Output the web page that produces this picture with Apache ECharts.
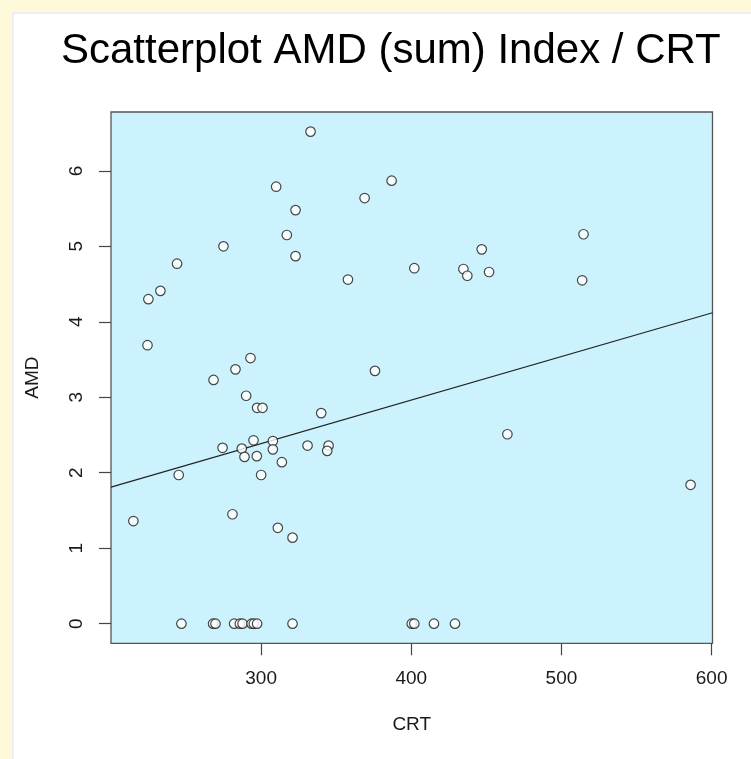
<!DOCTYPE html>
<html>
<head>
<meta charset="utf-8">
<script src="https://cdn.jsdelivr.net/npm/echarts@6/dist/echarts.min.js"></script>
<style>
  html, body { margin: 0; padding: 0; width: 751px; height: 759px; overflow: hidden; background: #fff9dc; }
  #panel { position: absolute; left: 12px; top: 12px; right: 0; bottom: 0; background: #ffffff; border-left: 2px solid #eeeef3; border-top: 2px solid #eeeef3; }
  #chart { position: absolute; left: 0; top: 0; width: 751px; height: 759px; }
</style>
</head>
<body>
<div id="panel"></div>
<div id="chart"></div>
<script>
// Data
const crt = [214.9, 224.3, 224.9, 232.9, 244.0, 245.1, 246.9, 268.3, 268.0, 269.6,
             274.9, 274.3, 280.9, 282.9, 282.0, 285.8, 287.6, 287.1, 288.9, 290.0,
             292.9, 294.9, 297.1, 297.3, 300.9, 300.0, 293.6, 295.1, 297.3, 307.8,
             307.8, 310.0, 311.1, 313.8, 317.1, 320.9, 320.9, 322.9, 322.9, 330.9,
             332.9, 340.0, 344.9, 344.0, 357.8, 368.9, 375.8, 386.9, 400.3, 402.0,
             402.0, 415.1, 429.1, 434.7, 437.3, 446.9, 451.8, 464.0, 513.8, 514.7,
             586.0];
const amd = [1.36, 3.69, 4.30, 4.41, 4.77, 1.97, 0, 3.23, 0, 0,
             5.00, 2.33, 1.45, 3.37, 0, 0, 0, 2.32, 2.21, 3.02,
             3.52, 2.43, 2.22, 2.86, 2.86, 1.97, 0, 0, 0, 2.42,
             2.31, 5.79, 1.27, 2.14, 5.15, 1.14, 0, 5.48, 4.87, 2.36,
             6.52, 2.79, 2.36, 2.29, 4.56, 5.64, 3.35, 5.87, 0, 0,
             4.71, 0, 0, 4.70, 4.61, 4.96, 4.66, 2.51, 4.55, 5.16,
             1.84];
// Fitted line endpoints as read at the plot edges
const fitX = [200, 600.6];
const fitY = [1.81, 4.12];
const xTicks = [300, 400, 500, 600];
const yTicks = [0, 1, 2, 3, 4, 5, 6];

const points = crt.map((x, i) => [x, amd[i]]);
const fitLine = fitX.map((x, i) => [x, fitY[i]]);

const chart = echarts.init(document.getElementById('chart'), null, { renderer: 'canvas' });
const font = 'Liberation Sans, Arial, Helvetica, sans-serif';
chart.setOption({
  backgroundColor: 'transparent',
  animation: false,
  title: {
    text: 'Scatterplot AMD (sum) Index / CRT',
    left: 56, top: 25,
    textStyle: { fontFamily: font, fontSize: 42, fontWeight: 'normal', color: '#000' }
  },
  grid: {
    left: 111, top: 112, width: 601.5, height: 531.3,
    show: true, backgroundColor: '#ccf3fd', borderColor: '#555', borderWidth: 1.3
  },
  xAxis: {
    type: 'value', min: 200, max: 600.6, interval: 100,
    name: 'CRT', nameLocation: 'middle', nameGap: 72,
    nameTextStyle: { fontFamily: font, fontSize: 19, color: '#1a1a1a' },
    axisLine: { show: false, onZero: false },
    splitLine: { show: false },
    axisTick: { show: true, inside: false, length: 12, customValues: xTicks, lineStyle: { color: '#444', width: 1.2 } },
    axisLabel: { customValues: xTicks, margin: 26, fontFamily: font, fontSize: 19, color: '#1a1a1a' }
  },
  yAxis: {
    type: 'value', min: -0.26, max: 6.78,
    name: 'AMD', nameLocation: 'middle', nameGap: 69,
    nameTextStyle: { fontFamily: font, fontSize: 19, color: '#1a1a1a' },
    axisLine: { show: false, onZero: false },
    splitLine: { show: false },
    axisTick: { show: true, inside: false, length: 12, customValues: yTicks, lineStyle: { color: '#444', width: 1.2 } },
    axisLabel: { customValues: yTicks, rotate: 90, margin: 25, fontFamily: font, fontSize: 19, color: '#1a1a1a' }
  },
  series: [
    {
      type: 'line', data: fitLine, showSymbol: false, silent: true,
      lineStyle: { color: '#222', width: 1.2 }, z: 2
    },
    {
      type: 'scatter', data: points, symbol: 'circle', symbolSize: 9.5,
      itemStyle: { color: '#ffffff', borderColor: '#1a1a1a', borderWidth: 1.2 }, z: 3
    }
  ]
});
</script>
</body>
</html>
